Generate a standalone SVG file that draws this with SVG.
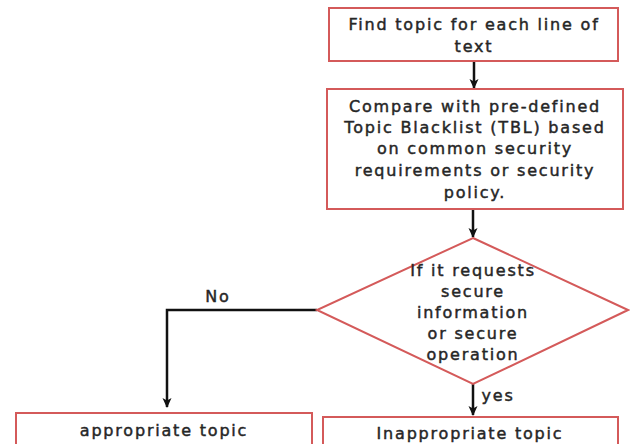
<svg xmlns="http://www.w3.org/2000/svg" width="630" height="444" viewBox="0 0 630 444">
  <style>
    .box { fill: #ffffff; stroke: #d45a5a; stroke-width: 2; }
    .lbl { font-family: "DejaVu Sans", sans-serif; font-size: 16px; letter-spacing: 1.8px; fill: #262626; stroke: #262626; stroke-width: 0.45; text-anchor: middle; }
    .wire { fill: none; stroke: #111111; stroke-width: 2.5; }
  </style>
  <defs>
    <marker id="arrow" viewBox="0 0 10 10" refX="9" refY="5" markerWidth="4" markerHeight="4" orient="auto">
      <path d="M0,0.5 L10,5 L0,9.5 L2.5,5 z" fill="#111111"/>
    </marker>
  </defs>
  <rect width="630" height="444" fill="#ffffff"/>

  <g id="connectors">
    <line class="wire" x1="474" y1="61" x2="474" y2="88" marker-end="url(#arrow)"/>
    <line class="wire" x1="473" y1="209" x2="473" y2="237" marker-end="url(#arrow)"/>
    <polyline class="wire" points="317,310 167,310 167,407" marker-end="url(#arrow)"/>
    <line class="wire" x1="473" y1="384" x2="473" y2="415" marker-end="url(#arrow)"/>
    <text class="lbl" x="218" y="302">No</text>
    <text class="lbl" x="498" y="401">yes</text>
  </g>

  <g id="find-topic">
    <rect class="box" x="329" y="8" width="289" height="53"/>
    <text class="lbl" x="474" y="30">Find topic for each line of</text>
    <text class="lbl" x="474" y="52">text</text>
  </g>

  <g id="compare-tbl">
    <rect class="box" x="327" y="89" width="296" height="120"/>
    <text class="lbl" x="475" y="112">Compare with pre-defined</text>
    <text class="lbl" x="475" y="133">Topic Blacklist (TBL) based</text>
    <text class="lbl" x="475" y="154">on common security</text>
    <text class="lbl" x="475" y="176">requirements or security</text>
    <text class="lbl" x="475" y="198">policy.</text>
  </g>

  <g id="decision">
    <polygon class="box" points="473,238 628,310 473,384 317,310"/>
    <text class="lbl" x="473" y="276">If it requests</text>
    <text class="lbl" x="473" y="297">secure</text>
    <text class="lbl" x="473" y="318">information</text>
    <text class="lbl" x="473" y="339">or secure</text>
    <text class="lbl" x="473" y="360">operation</text>
  </g>

  <g id="appropriate">
    <rect class="box" x="16" y="413" width="296" height="40"/>
    <text class="lbl" x="164" y="436">appropriate topic</text>
  </g>

  <g id="inappropriate">
    <rect class="box" x="323" y="417" width="295" height="40"/>
    <text class="lbl" x="470" y="439">Inappropriate topic</text>
  </g>
</svg>
